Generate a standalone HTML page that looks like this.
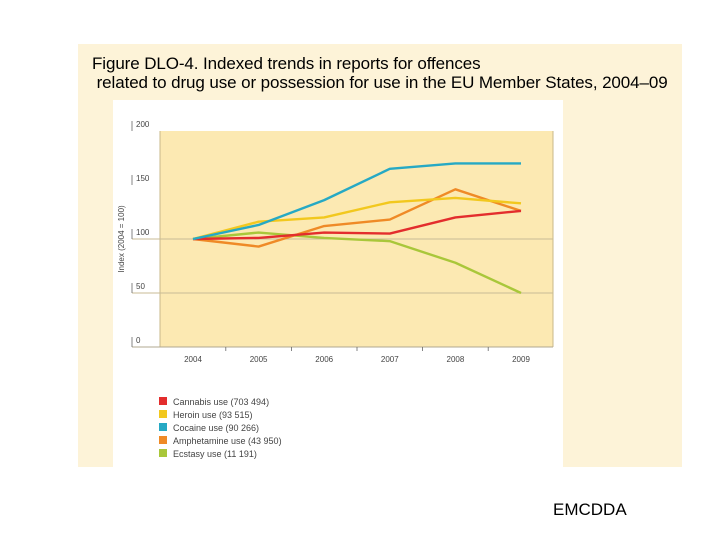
<!DOCTYPE html>
<html><head><meta charset="utf-8"><style>
body{margin:0;width:720px;height:540px;background:#fff;font-family:"Liberation Sans",sans-serif;position:relative;overflow:hidden}
</style></head><body>
<div style="position:absolute;left:78px;top:44px;width:604px;height:423px;background:#fdf3d8"></div>
<div style="position:absolute;left:92px;top:54px;font-size:17px;line-height:19px;color:#000;white-space:pre;letter-spacing:-0.1px">Figure DLO-4. Indexed trends in reports for offences
 related to drug use or possession for use in the EU Member States, 2004–09</div>
<div style="position:absolute;left:113px;top:100px;width:450px;height:367px;background:#fff"></div>
<svg id="c" width="720" height="540" style="position:absolute;left:0;top:0"></svg>
<div style="position:absolute;left:553px;top:500px;font-size:17px;color:#000">EMCDDA</div>
<script>
const years=["2004","2005","2006","2007","2008","2009"];
const cannabis=[100,101,106,105,120,126];
const heroin=[100,116,120,134,138,133];
const cocaine=[100,113,136,165,170,170];
const amph=[100,93,112,118,146,126];
const ecstasy=[100,106,101,98,78,50];
const yTicks=[0,50,100,150,200];
const legendLabels=["Cannabis use (703 494)","Heroin use (93 515)","Cocaine use (90 266)","Amphetamine use (43 950)","Ecstasy use (11 191)"];
const ns="http://www.w3.org/2000/svg",svg=document.getElementById('c');
const X=i=>193+i*65.6, Y=v=>347-v*1.08;
function mk(t,a){const e=document.createElementNS(ns,t);for(const k in a)e.setAttribute(k,a[k]);svg.appendChild(e);return e;}
let r=mk('rect',{x:160,y:131,width:393,height:216,fill:'#fce9b2'});


mk('line',{x1:160,y1:131,x2:160,y2:347,stroke:'#c8b88a','stroke-width':1});
mk('line',{x1:553,y1:131,x2:553,y2:347,stroke:'#c8b88a','stroke-width':1});
mk('line',{x1:132,y1:347,x2:553,y2:347,stroke:'#b0a890','stroke-width':1});
yTicks.forEach(v=>{
 if(v==50||v==100){const g=mk('line',{x1:132,y1:Y(v),x2:553,y2:Y(v),stroke:'#c8bb95','stroke-width':1});
 
 }
 mk('line',{x1:132,y1:Y(v)-10,x2:132,y2:Y(v),stroke:'#666','stroke-width':0.8});
 const t=mk('text',{x:136,y:Y(v)-4,'font-size':8,fill:'#444'});t.textContent=v;
 
 
});
years.forEach((y,i)=>{
 const t=mk('text',{x:X(i),y:362,'font-size':8,fill:'#444','text-anchor':'middle'});t.textContent=y;
 
 
 if(i>0)mk('line',{x1:X(i)-32.8,y1:347,x2:X(i)-32.8,y2:351,stroke:'#666','stroke-width':0.8});
});
const yt=mk('text',{x:0,y:0,'font-size':8,fill:'#444','text-anchor':'middle',transform:'translate(124,239) rotate(-90)'});
yt.textContent='Index (2004 = 100)';


const series=[[cannabis,'#e32d2d','cannabis-line'],[heroin,'#f2c81e','heroin-line'],[cocaine,'#26a9c4','cocaine-line'],[amph,'#ef8a26','amphetamine-line'],[ecstasy,'#a9c73a','ecstasy-line']];
const order=[4,3,0,1,2];
order.forEach(k=>{const [d,c,n]=series[k];
 const p=mk('polyline',{points:d.map((v,i)=>X(i)+','+Y(v)).join(' '),fill:'none',stroke:c,'stroke-width':2.4,'stroke-linejoin':'round'});
 
 
});
legendLabels.forEach((l,i)=>{const y=397+i*13;
 const s=mk('rect',{x:159,y:y,width:8,height:8,fill:series[i][1]});
 
 
 const t=mk('text',{x:173,y:y+8,'font-size':9,fill:'#444'});t.textContent=l;
 
 
});
</script>
</body></html>
